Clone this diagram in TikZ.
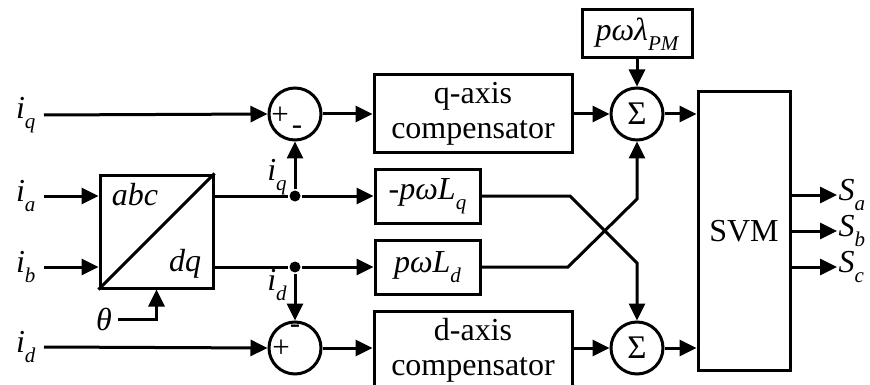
\documentclass[tikz,border=0pt]{standalone}
\usepackage{fontspec}
\setmainfont{Liberation Serif}
\usetikzlibrary{arrows.meta}
\newcommand{\sbs}[1]{\raisebox{-0.3em}{\fontsize{21}{21}\selectfont #1}}
\begin{document}
\begin{tikzpicture}[x=1pt,y=-1pt,
  line width=3pt,
  >={Triangle[length=17pt,width=16pt]},
  blk/.style={draw,line width=3pt,inner sep=0pt,font=\fontsize{32}{34}\selectfont,align=center},
  sumc/.style={draw,circle,minimum size=52pt,inner sep=0pt,font=\fontsize{33}{34}\selectfont},
  lbl/.style={font=\fontsize{32}{34}\selectfont\itshape,inner sep=0pt},
  sgn/.style={font=\fontsize{31}{31}\selectfont,inner sep=0pt},
  jdot/.style={circle,fill,inner sep=0pt,minimum size=11pt}]
\useasboundingbox (0,0) rectangle (870,385);

% blocks
\node[blk,minimum width=113pt,minimum height=113pt] (conv) at (156.5,231.5) {};
\draw (conv.south west) -- (conv.north east);
\node[lbl] (abc) at (135,195) {abc};
\node[lbl] (dq) at (185,264) {dq};

\node[blk,minimum width=198pt,minimum height=78pt] (qc) at (473,114) {q-axis\\[1pt]compensator};
\node[blk,minimum width=198pt,minimum height=78pt] (dc) at (473,350) {d-axis\\[1pt]compensator};
\node[blk,minimum width=105pt,minimum height=54pt] (Lq) at (427.5,196) {\itshape -pωL\sbs{q}};
\node[blk,minimum width=105pt,minimum height=54pt] (Ld) at (427.5,267) {\itshape pωL\sbs{d}};
\node[blk,minimum width=110pt,minimum height=48pt] (pm) at (637,34) {\itshape pωλ\sbs{PM}};
\node[blk,minimum width=92pt,minimum height=278pt] (svm) at (744,231) {SVM};

% summing junctions
\node[sumc] (sq) at (295,114) {};
\node[sgn] at (280,116) {+};
\node[sgn] at (297,130) {-};
\node[sumc] (sd) at (295,348) {};
\node[sgn] at (281,349) {+};
\node[sgn] at (295,329) {-};
\node[sumc] (Sq) at (637,114) {Σ};
\node[sumc] (Sd) at (637,348) {Σ};

% junction dots
\node[jdot] (jq) at (295,196) {};
\node[jdot] (jd) at (295,267) {};

% inputs
\node[lbl,anchor=east] (iq) at (37,115) {i\sbs{q}};
\node[lbl,anchor=east] (ia) at (37,196) {i\sbs{a}};
\node[lbl,anchor=east] (ib) at (37,267) {i\sbs{b}};
\node[lbl,anchor=east] (id) at (37,347) {i\sbs{d}};
\node[lbl] (th) at (104,319) {θ};

\draw[->] ([xshift=7pt]iq.east) -- (sq.west);
\draw[->] ([xshift=7pt]ia.east) -- (conv.west |- ia);
\draw[->] ([xshift=7pt]ib.east) -- (conv.west |- ib);
\draw[->] ([xshift=7pt]id.east) -- (sd.west);
\draw[->] ([xshift=5pt]th.east) -| (conv.south);

% conv outputs
\draw (conv.east |- jq) -- (jq);
\draw[->] (jq) -- (Lq.west);
\draw[->] (jq) -- (sq.south);
\node[lbl] (iqf) at (277,177) {i\sbs{q}};
\draw (conv.east |- jd) -- (jd);
\draw[->] (jd) -- (Ld.west);
\draw[->] (jd) -- (sd.north);
\node[lbl] (idf) at (277,285) {i\sbs{d}};

% compensators
\draw[->] (sq.east) -- (qc.west);
\draw[->] (sd.east) -- (dc.west |- sd);
\draw[->] (qc.east) -- (Sq.west);
\draw[->] (dc.east |- Sd) -- (Sd.west);
\draw[->] (pm.south) -- (Sq.north);

% cross coupling
\coordinate (c1) at (570,196);
\coordinate (c2) at (637,263);
\coordinate (c3) at (568,267);
\coordinate (c4) at (637,199);
\draw[->,line join=miter] (Lq.east) -- (c1) -- (c2) -- (Sd.north);
\draw[->,line join=miter] (Ld.east) -- (c3) -- (c4) -- (Sq.south);

% to SVM
\draw[->] (Sq.east) -- (svm.west |- Sq);
\draw[->] (Sd.east) -- (svm.west |- Sd);

% outputs
\node[lbl,anchor=west] (sa) at (837,195) {S\sbs{a}};
\node[lbl,anchor=west] (sb) at (837,231) {S\sbs{b}};
\node[lbl,anchor=west] (sc) at (837,267) {S\sbs{c}};
\draw[->] (svm.east |- sa) -- (sa.west);
\draw[->] (svm.east |- sb) -- (sb.west);
\draw[->] (svm.east |- sc) -- (sc.west);
\end{tikzpicture}
\end{document}
